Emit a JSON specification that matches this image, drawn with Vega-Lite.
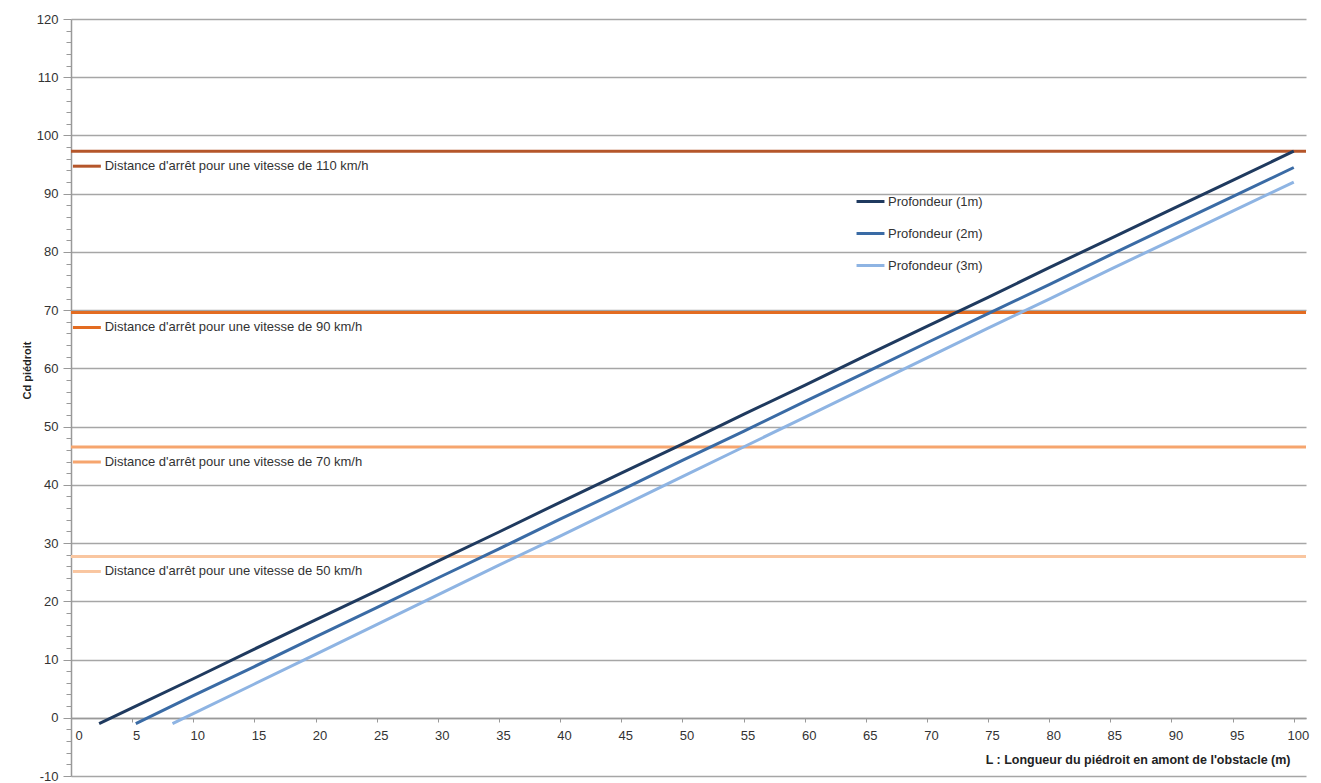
{
  "$schema": "https://vega.github.io/schema/vega-lite/v6.json",
  "width": 1235,
  "height": 757,
  "autosize": {"type": "none"},
  "padding": {"left": 71, "top": 19, "right": 15, "bottom": 7},
  "background": "white",
  "config": {
    "font": "Liberation Sans",
    "view": {"stroke": null},
    "axis": {"labelFont": "Liberation Sans", "titleFont": "Liberation Sans", "labelColor": "#333", "titleColor": "#222"}
  },
  "datasets": {
    "series": [
      {"serie": "Profondeur (1m)", "L": 2.3, "Cd": -1},
      {"serie": "Profondeur (1m)", "L": 5, "Cd": 1.7},
      {"serie": "Profondeur (1m)", "L": 10, "Cd": 6.7},
      {"serie": "Profondeur (1m)", "L": 15, "Cd": 11.8},
      {"serie": "Profondeur (1m)", "L": 20, "Cd": 16.8},
      {"serie": "Profondeur (1m)", "L": 25, "Cd": 21.8},
      {"serie": "Profondeur (1m)", "L": 30, "Cd": 26.9},
      {"serie": "Profondeur (1m)", "L": 35, "Cd": 31.9},
      {"serie": "Profondeur (1m)", "L": 40, "Cd": 37.0},
      {"serie": "Profondeur (1m)", "L": 45, "Cd": 42.0},
      {"serie": "Profondeur (1m)", "L": 50, "Cd": 47.0},
      {"serie": "Profondeur (1m)", "L": 55, "Cd": 52.1},
      {"serie": "Profondeur (1m)", "L": 60, "Cd": 57.1},
      {"serie": "Profondeur (1m)", "L": 65, "Cd": 62.2},
      {"serie": "Profondeur (1m)", "L": 70, "Cd": 67.2},
      {"serie": "Profondeur (1m)", "L": 75, "Cd": 72.2},
      {"serie": "Profondeur (1m)", "L": 80, "Cd": 77.3},
      {"serie": "Profondeur (1m)", "L": 85, "Cd": 82.3},
      {"serie": "Profondeur (1m)", "L": 90, "Cd": 87.3},
      {"serie": "Profondeur (1m)", "L": 95, "Cd": 92.3},
      {"serie": "Profondeur (1m)", "L": 100, "Cd": 97.3},
      {"serie": "Profondeur (2m)", "L": 5.3, "Cd": -1},
      {"serie": "Profondeur (2m)", "L": 10, "Cd": 3.8},
      {"serie": "Profondeur (2m)", "L": 15, "Cd": 8.8},
      {"serie": "Profondeur (2m)", "L": 20, "Cd": 13.9},
      {"serie": "Profondeur (2m)", "L": 25, "Cd": 18.9},
      {"serie": "Profondeur (2m)", "L": 30, "Cd": 24.0},
      {"serie": "Profondeur (2m)", "L": 35, "Cd": 29.0},
      {"serie": "Profondeur (2m)", "L": 40, "Cd": 34.1},
      {"serie": "Profondeur (2m)", "L": 45, "Cd": 39.1},
      {"serie": "Profondeur (2m)", "L": 50, "Cd": 44.2},
      {"serie": "Profondeur (2m)", "L": 55, "Cd": 49.2},
      {"serie": "Profondeur (2m)", "L": 60, "Cd": 54.3},
      {"serie": "Profondeur (2m)", "L": 65, "Cd": 59.3},
      {"serie": "Profondeur (2m)", "L": 70, "Cd": 64.4},
      {"serie": "Profondeur (2m)", "L": 75, "Cd": 69.4},
      {"serie": "Profondeur (2m)", "L": 80, "Cd": 74.4},
      {"serie": "Profondeur (2m)", "L": 85, "Cd": 79.5},
      {"serie": "Profondeur (2m)", "L": 90, "Cd": 84.5},
      {"serie": "Profondeur (2m)", "L": 95, "Cd": 89.5},
      {"serie": "Profondeur (2m)", "L": 100, "Cd": 94.5},
      {"serie": "Profondeur (3m)", "L": 8.3, "Cd": -1},
      {"serie": "Profondeur (3m)", "L": 10, "Cd": 0.7},
      {"serie": "Profondeur (3m)", "L": 15, "Cd": 5.8},
      {"serie": "Profondeur (3m)", "L": 20, "Cd": 10.9},
      {"serie": "Profondeur (3m)", "L": 25, "Cd": 16.0},
      {"serie": "Profondeur (3m)", "L": 30, "Cd": 21.1},
      {"serie": "Profondeur (3m)", "L": 35, "Cd": 26.2},
      {"serie": "Profondeur (3m)", "L": 40, "Cd": 31.2},
      {"serie": "Profondeur (3m)", "L": 45, "Cd": 36.3},
      {"serie": "Profondeur (3m)", "L": 50, "Cd": 41.4},
      {"serie": "Profondeur (3m)", "L": 55, "Cd": 46.5},
      {"serie": "Profondeur (3m)", "L": 60, "Cd": 51.6},
      {"serie": "Profondeur (3m)", "L": 65, "Cd": 56.7},
      {"serie": "Profondeur (3m)", "L": 70, "Cd": 61.8},
      {"serie": "Profondeur (3m)", "L": 75, "Cd": 66.9},
      {"serie": "Profondeur (3m)", "L": 80, "Cd": 71.9},
      {"serie": "Profondeur (3m)", "L": 85, "Cd": 77.0},
      {"serie": "Profondeur (3m)", "L": 90, "Cd": 82.0},
      {"serie": "Profondeur (3m)", "L": 95, "Cd": 87.0},
      {"serie": "Profondeur (3m)", "L": 100, "Cd": 92.0}
    ],
    "refs": [
      {"vitesse": "110 km/h", "label": "Distance d'arrêt pour une vitesse de 110 km/h", "Cd": 97.3},
      {"vitesse": "90 km/h", "label": "Distance d'arrêt pour une vitesse de 90 km/h", "Cd": 69.6},
      {"vitesse": "70 km/h", "label": "Distance d'arrêt pour une vitesse de 70 km/h", "Cd": 46.5},
      {"vitesse": "50 km/h", "label": "Distance d'arrêt pour une vitesse de 50 km/h", "Cd": 27.7}
    ]
  },
  "layer": [
    {
      "data": {"name": "refs"},
      "mark": {"type": "rule", "strokeWidth": 3},
      "encoding": {
        "y": {
          "field": "Cd", "type": "quantitative",
          "scale": {"domain": [-10, 120], "nice": false},
          "axis": {
            "title": "Cd piédroit",
            "titleFontSize": 11, "titleFontWeight": "bold", "titleX": -39, "titleY": 351,
            "tickCount": 200,
            "values": [-10,-8,-6,-4,-2,0,2,4,6,8,10,12,14,16,18,20,22,24,26,28,30,32,34,36,38,40,42,44,46,48,50,52,54,56,58,60,62,64,66,68,70,72,74,76,78,80,82,84,86,88,90,92,94,96,98,100,102,104,106,108,110,112,114,116,118,120],
            "labelExpr": "datum.value % 10 === 0 ? '' + datum.value : ''",
            "labelOverlap": false,
            "labelFontSize": 13, "labelPadding": 5,
            "grid": true,
            "gridColor": "#a6a6a6", "gridWidth": 1.5,
            "gridOpacity": {"condition": {"test": "datum.value % 10 === 0", "value": 1}, "value": 0},
            "tickColor": "#999",
            "tickSize": {"condition": {"test": "datum.value % 10 === 0", "value": 8}, "value": 5},
            "domainColor": "#999", "domainWidth": 1.5
          }
        },
        "stroke": {
          "field": "vitesse", "type": "nominal", "legend": null,
          "scale": {"domain": ["110 km/h", "90 km/h", "70 km/h", "50 km/h"], "range": ["#b5562a", "#e36c21", "#f6a56e", "#f9c6a0"]}
        }
      }
    },
    {
      "data": {"name": "refs"},
      "mark": {"type": "point", "shape": "stroke", "size": 780, "strokeWidth": 3, "filled": false, "yOffset": 15, "opacity": 1},
      "encoding": {
        "x": {"datum": 1.3, "type": "quantitative"},
        "y": {"field": "Cd", "type": "quantitative"},
        "stroke": {"field": "vitesse", "type": "nominal", "legend": null}
      }
    },
    {
      "data": {"name": "refs"},
      "mark": {"type": "text", "align": "left", "baseline": "middle", "yOffset": 15, "fontSize": 13, "color": "#333"},
      "encoding": {
        "x": {"datum": 2.75, "type": "quantitative"},
        "y": {"field": "Cd", "type": "quantitative"},
        "text": {"field": "label"}
      }
    },
    {
      "data": {"name": "series"},
      "mark": {"type": "line", "strokeWidth": 3},
      "encoding": {
        "x": {
          "field": "L", "type": "quantitative",
          "scale": {"domain": [0, 101], "nice": false},
          "axis": {
            "title": "L : Longueur du piédroit en amont de l'obstacle  (m)",
            "titleFontSize": 12.5, "titleFontWeight": "bold",
            "titleAnchor": "end", "titleAlign": "right", "titlePadding": 11, "titleX": 1219,
            "orient": "bottom", "offset": -58,
            "tickCount": 100,
            "values": [0,5,10,15,20,25,30,35,40,45,50,55,60,65,70,75,80,85,90,95,100],
            "labelExpr": "'' + datum.value",
            "labelFontSize": 13, "labelPadding": 7, "labelOffset": 4,
            "grid": false,
            "tickColor": "#999", "tickSize": 4,
            "domainColor": "#999", "domainWidth": 1.5
          }
        },
        "y": {"field": "Cd", "type": "quantitative"},
        "color": {
          "field": "serie", "type": "nominal",
          "scale": {"domain": ["Profondeur (1m)", "Profondeur (2m)", "Profondeur (3m)"], "range": ["#1f3a5f", "#3a6ba5", "#8eb4e3"]},
          "legend": {
            "title": null, "orient": "none", "legendX": 784, "legendY": 167,
            "symbolType": "stroke", "symbolSize": 780, "symbolStrokeWidth": 3,
            "labelFontSize": 13, "labelColor": "#333", "rowPadding": 9, "labelOffset": 2
          }
        }
      }
    }
  ]
}
